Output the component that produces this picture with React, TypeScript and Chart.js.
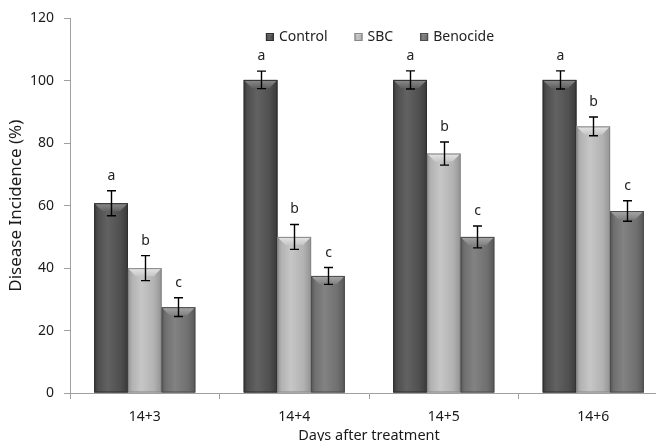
import React, { useEffect, useRef } from 'react';
import { Chart, registerables } from 'chart.js';

Chart.register(...registerables);

const categories = ['14+3', '14+4', '14+5', '14+6'];
const seriesNames = ['Control', 'SBC', 'Benocide'];
const controlValues = [60.8, 100.3, 100.3, 100.3];
const sbcValues = [40, 50, 76.7, 85.4];
const benocideValues = [27.5, 37.5, 50, 58.3];
const controlErrors = [4, 2.8, 2.9, 2.9];
const sbcErrors = [4, 4, 3.7, 3];
const benocideErrors = [3, 2.7, 3.5, 3.3];
const controlLetters = ['a', 'a', 'a', 'a'];
const sbcLetters = ['b', 'b', 'b', 'b'];
const benocideLetters = ['c', 'c', 'c', 'c'];
const yTicks = [0, 20, 40, 60, 80, 100, 120];
const xTitle = 'Days after treatment';
const yTitle = 'Disease Incidence (%)';

const FONT = '"Noto Sans", sans-serif';

const palettes = [
  { base: '#4f4f4f', light: '#626262', dark: '#3a3a3a', top: '#8c8c8c', border: '#2f2f2f' },
  { base: '#b2b2b2', light: '#c6c6c6', dark: '#939393', top: '#e6e6e6', border: '#888888' },
  { base: '#707070', light: '#828282', dark: '#585858', top: '#a8a8a8', border: '#4c4c4c' },
];

const seriesValues = [controlValues, sbcValues, benocideValues];
const seriesErrors = [controlErrors, sbcErrors, benocideErrors];
const seriesLetters = [controlLetters, sbcLetters, benocideLetters];

function drawBevelBox(ctx: CanvasRenderingContext2D, pal: any, left: number, top: number, w: number, h: number, bevel: number) {
  const g = ctx.createLinearGradient(left, 0, left + w, 0);
  g.addColorStop(0, pal.dark);
  g.addColorStop(0.12, pal.base);
  g.addColorStop(0.4, pal.light);
  g.addColorStop(0.78, pal.base);
  g.addColorStop(1, pal.dark);
  ctx.fillStyle = g;
  ctx.fillRect(left, top, w, h);
  const bv = Math.min(bevel, h / 2, w / 2);
  if (bv > 0) {
    const gv = ctx.createLinearGradient(0, top, 0, top + bv);
    gv.addColorStop(0, pal.top);
    gv.addColorStop(1, pal.light);
    ctx.beginPath();
    ctx.moveTo(left, top);
    ctx.lineTo(left + w, top);
    ctx.lineTo(left + w - bv, top + bv);
    ctx.lineTo(left + bv, top + bv);
    ctx.closePath();
    ctx.fillStyle = gv;
    ctx.fill();
  }
  ctx.strokeStyle = pal.border;
  ctx.lineWidth = 1;
  ctx.strokeRect(left + 0.5, top + 0.5, w - 1, h - 1);
}

const barStylePlugin = {
  id: 'barStyle',
  afterDatasetsDraw(chart: any) {
    const ctx: CanvasRenderingContext2D = chart.ctx;
    const yScale = chart.scales.y;
    ctx.save();
    chart.data.datasets.forEach((ds: any, di: number) => {
      const meta = chart.getDatasetMeta(di);
      const pal = palettes[di];
      meta.data.forEach((el: any) => {
        const p = el.getProps(['x', 'y', 'base', 'width'], true);
        const left = p.x - p.width / 2;
        const top = Math.min(p.y, p.base);
        const bottom = Math.max(p.y, p.base);
        drawBevelBox(ctx, pal, left, top, p.width, bottom - top, 8);
      });
    });
    // error bars & letters
    chart.data.datasets.forEach((ds: any, di: number) => {
      const meta = chart.getDatasetMeta(di);
      meta.data.forEach((el: any, i: number) => {
        const v = seriesValues[di][i];
        const e = seriesErrors[di][i];
        const x = Math.round(el.x) + 0.5;
        const yt = yScale.getPixelForValue(v + e);
        const yb = yScale.getPixelForValue(v - e);
        ctx.strokeStyle = '#000';
        ctx.lineWidth = 1.4;
        ctx.beginPath();
        ctx.moveTo(x, yt);
        ctx.lineTo(x, yb);
        ctx.moveTo(x - 4.5, yt);
        ctx.lineTo(x + 4.5, yt);
        ctx.moveTo(x - 4.5, yb);
        ctx.lineTo(x + 4.5, yb);
        ctx.stroke();
        ctx.fillStyle = '#222';
        ctx.font = '14px ' + FONT;
        ctx.textAlign = 'center';
        ctx.textBaseline = 'alphabetic';
        ctx.fillText(seriesLetters[di][i], x, yt - 11);
      });
    });
    // legend
    ctx.font = '14px ' + FONT;
    ctx.textBaseline = 'middle';
    ctx.textAlign = 'left';
    const box = 8;
    const gapBox = 5;
    const gapItem = 27;
    const widths = seriesNames.map((n) => ctx.measureText(n).width);
    const total = widths.reduce((a, w) => a + box + gapBox + w, 0) + gapItem * (seriesNames.length - 1);
    let lx = 380 - total / 2;
    const ly = 37;
    seriesNames.forEach((n, i) => {
      drawBevelBox(ctx, palettes[i], lx, ly - box / 2, box, box, 2);
      ctx.fillStyle = '#222';
      ctx.fillText(n, lx + box + gapBox, ly + 0.5);
      lx += box + gapBox + widths[i] + gapItem;
    });
    ctx.restore();
  },
};

export default function App() {
  const ref = useRef<HTMLCanvasElement>(null);
  useEffect(() => {
    if (!ref.current) return;
    const chart = new Chart(ref.current, {
      type: 'bar',
      data: {
        labels: categories,
        datasets: seriesNames.map((name, i) => ({
          label: name,
          data: seriesValues[i],
          backgroundColor: palettes[i].base,
          borderWidth: 0,
          categoryPercentage: 0.676,
          barPercentage: 1,
        })),
      },
      options: {
        responsive: false,
        animation: false,
        devicePixelRatio: 1,
        layout: { padding: { top: 18, left: 0, right: 0, bottom: 0 } },
        plugins: {
          legend: { display: false },
          tooltip: { enabled: false },
          title: { display: false },
        },
        scales: {
          x: {
            grid: {
              display: true,
              drawOnChartArea: false,
              drawTicks: true,
              tickLength: 6,
              color: '#a0a0a0',
              offset: true,
            },
            border: { display: true, color: '#a0a0a0', width: 1 },
            ticks: {
              color: '#1a1a1a',
              font: { family: FONT, size: 14 },
              padding: 10,
            },
            title: {
              display: true,
              text: xTitle,
              color: '#1a1a1a',
              font: { family: FONT, size: 14.5, lineHeight: 0.7 },
              padding: { top: 0, bottom: 0 },
            },
            afterFit: (s: any) => {
              s.height = 48;
            },
          },
          y: {
            min: 0,
            max: 120,
            afterBuildTicks: (s: any) => {
              s.ticks = yTicks.map((v) => ({ value: v }));
            },
            grid: {
              display: true,
              drawOnChartArea: false,
              drawTicks: true,
              tickLength: 6,
              color: '#a0a0a0',
            },
            border: { display: true, color: '#a0a0a0', width: 1 },
            ticks: {
              color: '#1a1a1a',
              font: { family: FONT, size: 14 },
              padding: 10,
            },
            title: {
              display: true,
              text: yTitle,
              color: '#1a1a1a',
              font: { family: FONT, size: 17 },
              padding: { top: 6, bottom: 0 },
            },
            afterFit: (s: any) => {
              s.width = 70;
            },
          },
        },
      },
      plugins: [barStylePlugin],
    });
    return () => chart.destroy();
  }, []);
  return (
    <div style={{ position: 'absolute', left: 0, top: 0, width: 656, height: 441, overflow: 'hidden', background: '#fff' }}>
      <canvas ref={ref} width={668} height={441} style={{ display: 'block' }} />
    </div>
  );
}
